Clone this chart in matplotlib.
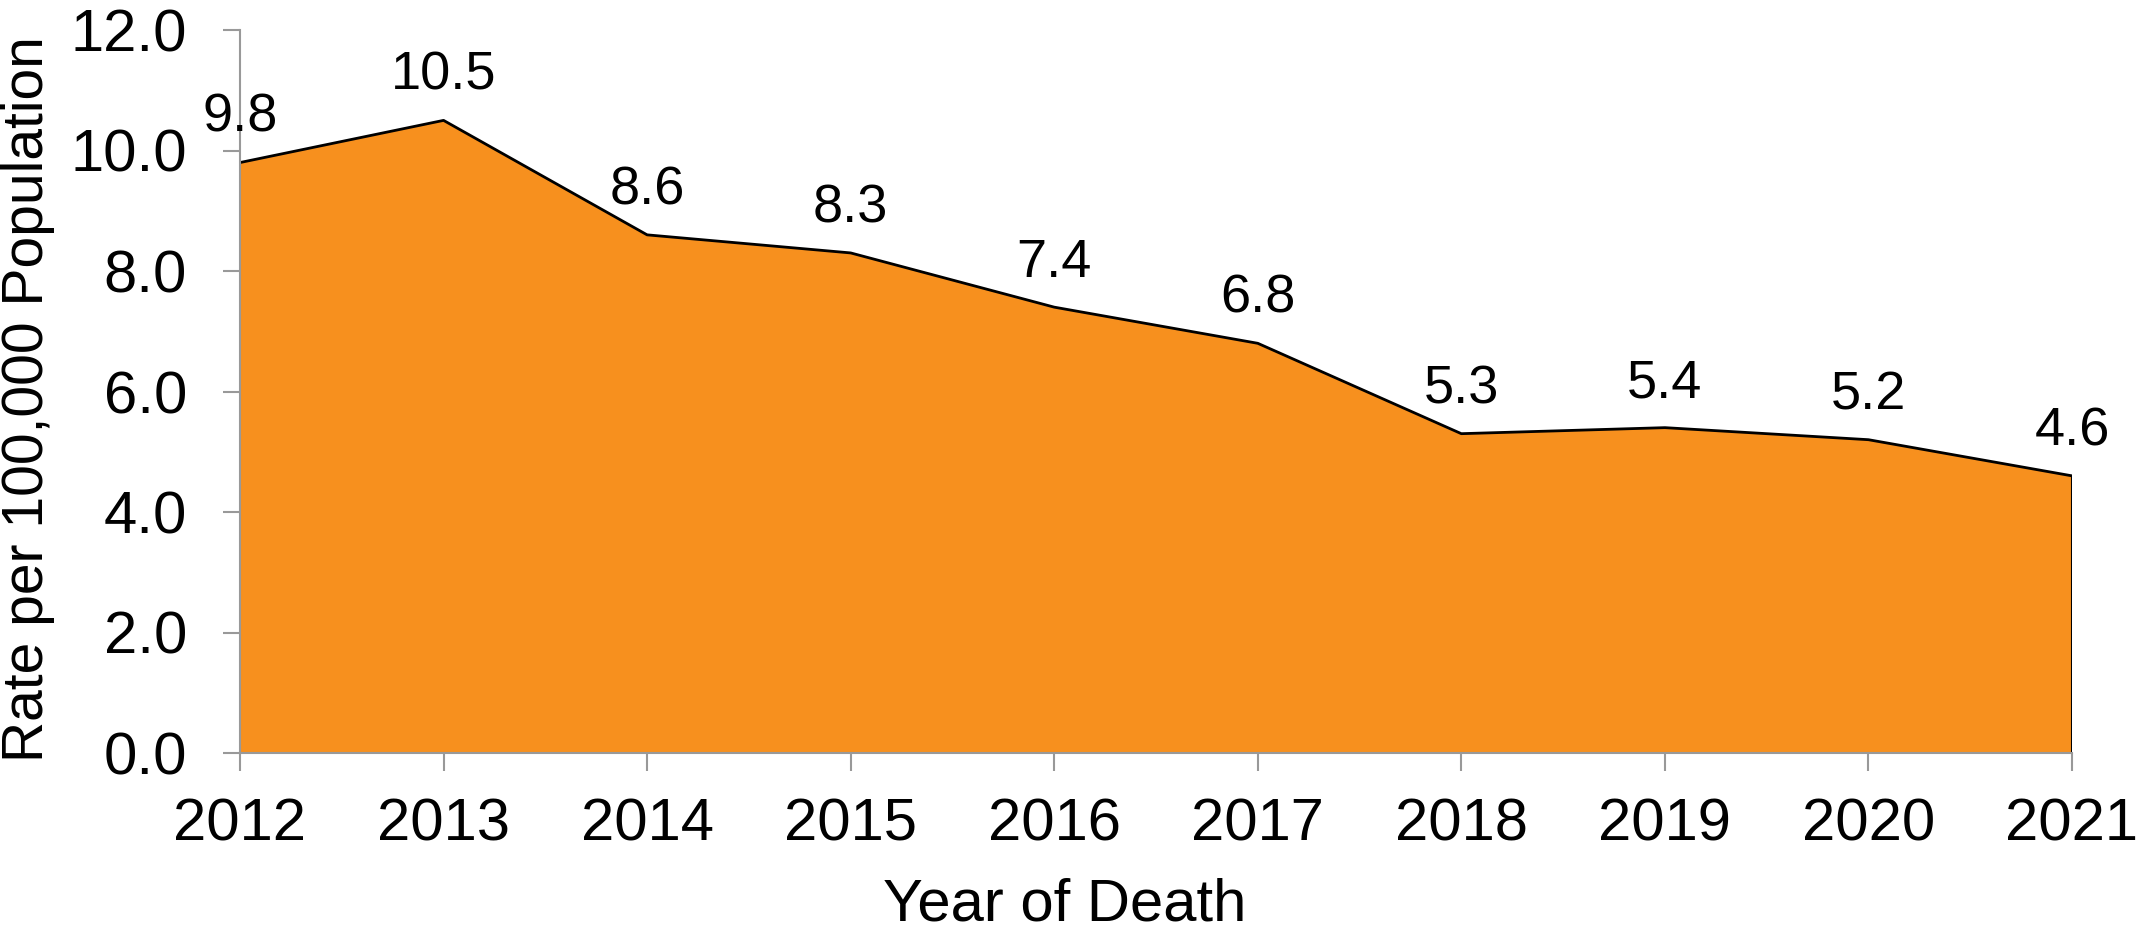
import matplotlib.pyplot as plt

plt.rcParams['font.family'] = ['Liberation Sans', 'DejaVu Sans']

# Taxa por 100.000 habitantes por ano do óbito
years = [2012, 2013, 2014, 2015, 2016, 2017, 2018, 2019, 2020, 2021]
rates = [9.8, 10.5, 8.6, 8.3, 7.4, 6.8, 5.3, 5.4, 5.2, 4.6]
y_ticks = [0.0, 2.0, 4.0, 6.0, 8.0, 10.0, 12.0]

fig = plt.figure(figsize=(21.36, 9.33), dpi=100)
ax = fig.add_axes([240 / 2136, 1 - 753 / 933, 1832 / 2136, 723 / 933])

ax.fill_between(years, rates, 0, facecolor='#F7901E', edgecolor='none')
ax.plot(years, rates, color='black', linewidth=2)
ax.plot([years[-1], years[-1]], [0, rates[-1]], color='black', linewidth=1.5)

# Rótulos com os valores acima de cada ponto
for x, y in zip(years, rates):
    ax.annotate(f'{y:.1f}', (x, y), xytext=(0, 22), textcoords='offset points',
                ha='center', va='baseline', fontsize=39)

ax.set_xlim(years[0], years[-1])
ax.set_ylim(0, 12)
ax.set_xticks(years)
ax.set_yticks(y_ticks)
ax.set_yticklabels([f'{v:.1f}' for v in y_ticks])

for side in ['top', 'right']:
    ax.spines[side].set_visible(False)
for side in ['left', 'bottom']:
    ax.spines[side].set_color('#999999')
    ax.spines[side].set_linewidth(1.5)

ax.tick_params(axis='y', length=12, width=1.5, color='#999999', pad=26, labelsize=43)
ax.tick_params(axis='x', length=13, width=1.5, color='#999999', pad=19, labelsize=43)

ax.set_ylabel('Rate per 100,000 Population', fontsize=41)
ax.yaxis.set_label_coords(-0.101, 0.49)
ax.set_xlabel('Year of Death', fontsize=43)
ax.xaxis.set_label_coords(0.45, -0.172)

fig.savefig('out.png', dpi=100)
